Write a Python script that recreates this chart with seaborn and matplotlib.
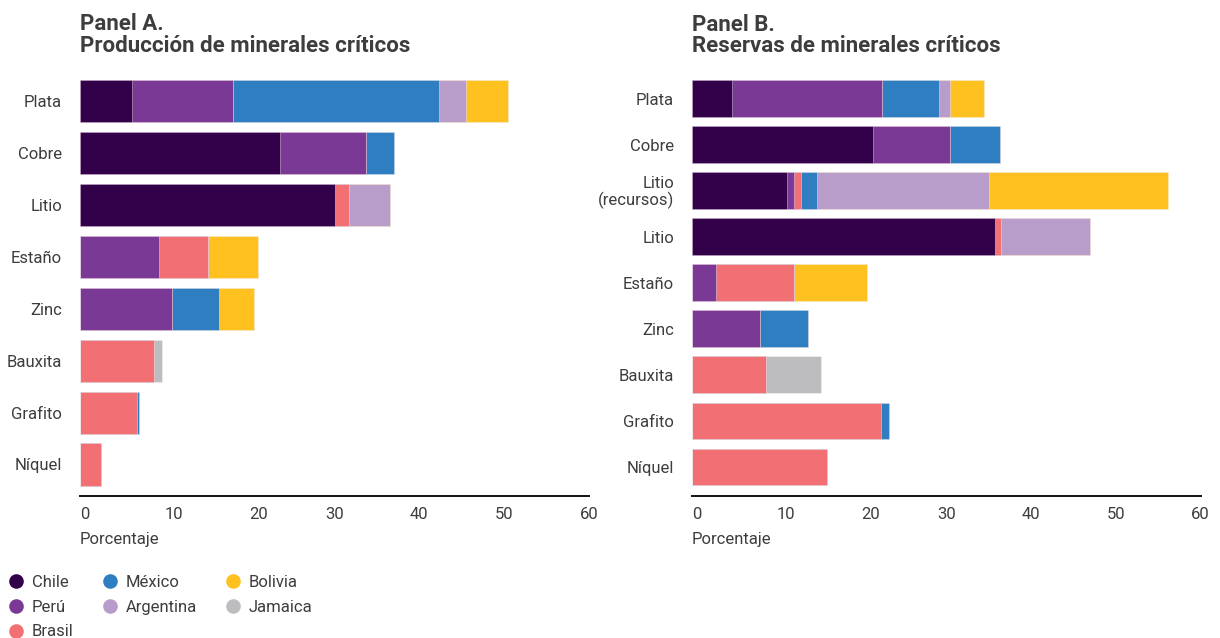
import numpy as np
import pandas as pd
import matplotlib
matplotlib.use("Agg")
import matplotlib.pyplot as plt
import seaborn as sns
from matplotlib.lines import Line2D

# ---------------- data ----------------
countries = ["Chile", "Perú", "Brasil", "México", "Argentina", "Bolivia", "Jamaica"]
colors = ["#33004a", "#7a3995", "#f26f73", "#2e7ec1", "#b89cc9", "#fec11f", "#bdbdbf"]

cats_a = ["Plata", "Cobre", "Litio", "Estaño", "Zinc", "Bauxita", "Grafito", "Níquel"]
chile_a = [6.1, 23.6, 30.0, 0, 0, 0, 0, 0]
peru_a = [11.9, 10.1, 0, 9.3, 10.8, 0, 0, 0]
brasil_a = [0, 0, 1.7, 5.8, 0, 8.7, 6.7, 2.5]
mexico_a = [24.3, 3.3, 0, 0, 5.6, 0, 0.25, 0]
argentina_a = [3.2, 0, 4.9, 0, 0, 0, 0, 0]
bolivia_a = [5.0, 0, 0, 5.9, 4.1, 0, 0, 0]
jamaica_a = [0, 0, 0, 0, 0, 1.0, 0, 0]

cats_b = ["Plata", "Cobre", "Litio\n(recursos)", "Litio", "Estaño", "Zinc", "Bauxita", "Grafito", "Níquel"]
chile_b = [4.7, 21.4, 11.2, 35.7, 0, 0, 0, 0, 0]
peru_b = [17.7, 9.1, 0.8, 0, 2.8, 8.0, 0, 0, 0]
brasil_b = [0, 0, 0.9, 0.8, 9.2, 0, 8.7, 22.3, 15.9]
mexico_b = [6.8, 5.9, 1.8, 0, 0, 5.7, 0, 0.9, 0]
argentina_b = [1.2, 0, 20.3, 10.5, 0, 0, 0, 0, 0]
bolivia_b = [4.0, 0, 21.2, 0, 8.6, 0, 0, 0, 0]
jamaica_b = [0, 0, 0, 0, 0, 0, 6.5, 0, 0]

xticks = [0, 10, 20, 30, 40, 50, 60]
x_label = "Porcentaje"
title_a = "Panel A.\nProducción de minerales críticos"
title_b = "Panel B.\nReservas de minerales críticos"

series_a = [chile_a, peru_a, brasil_a, mexico_a, argentina_a, bolivia_a, jamaica_a]
series_b = [chile_b, peru_b, brasil_b, mexico_b, argentina_b, bolivia_b, jamaica_b]

# ---------------- style ----------------
sns.set_theme(style="white")
plt.rcParams["font.family"] = ["Roboto", "DejaVu Sans"]
TXT = "#3d3d3d"

W, H = 1220, 638
fig = plt.figure(figsize=(W / 100, H / 100), dpi=100)


def long_df(cats, series):
    rows = []
    cum = np.zeros(len(cats))
    for c, vals in zip(countries, series):
        cum = cum + np.array(vals, dtype=float)
        for cat, v in zip(cats, cum):
            rows.append({"cat": cat, "country": c, "cum": v})
    return pd.DataFrame(rows)


def draw(ax, cats, series, width, ylim_bottom, title):
    df = long_df(cats, series)
    for c, col in reversed(list(zip(countries, colors))):
        sub = df[df["country"] == c]
        sns.barplot(data=sub, x="cum", y="cat", order=cats, orient="h",
                    color=col, saturation=1, width=width, errorbar=None,
                    edgecolor=(1, 1, 1, 0.45), linewidth=0.6, ax=ax)
    ax.set_xlim(0, 60)
    ax.set_ylim(ylim_bottom, -0.5)
    ax.set_xlabel("")
    ax.set_ylabel("")
    for s in ["top", "right", "left"]:
        ax.spines[s].set_visible(False)
    ax.spines["bottom"].set_color("#111111")
    ax.spines["bottom"].set_linewidth(1.4)
    ax.set_xticks(xticks)
    ax.set_xticklabels([str(t) for t in xticks])
    ax.tick_params(axis="x", length=0, pad=8, labelsize=12, labelcolor=TXT)
    ax.tick_params(axis="y", length=0, pad=13, labelsize=12, labelcolor=TXT)
    for lab, t in zip(ax.get_xticklabels(), xticks):
        lab.set_ha("left" if t <= 20 else "center")
    for lab in ax.get_yticklabels():
        lab.set_multialignment("right")
        lab.set_linespacing(1.0)
    ax.text(0, -0.1045, x_label, transform=ax.transAxes, ha="left", va="center",
            fontsize=12, color=TXT)
    ax.text(0, 1.095, title, transform=ax.transAxes, ha="left", va="center",
            fontsize=16, fontweight="bold", color=TXT, linespacing=0.95)


ax_a = fig.add_axes([80 / W, 1 - 496 / H, 509 / W, 421 / H])
draw(ax_a, cats_a, series_a, 0.81, 7.607, title_a)

ax_b = fig.add_axes([692 / W, 1 - 496 / H, 508.5 / W, 420.5 / H])
draw(ax_b, cats_b, series_b, 0.80, 8.63, title_b)

handles = [Line2D([0], [0], marker="o", linestyle="", markersize=10.5,
                  markerfacecolor=col, markeredgewidth=0) for col in colors]
fig.legend(handles, countries, loc="upper left", bbox_to_anchor=(6 / W, 1 - 575 / H),
           ncol=3, frameon=False, fontsize=12, labelcolor=TXT,
           handletextpad=0.36, columnspacing=1.55, labelspacing=0.58,
           borderpad=0, borderaxespad=0, handlelength=1.2)

fig.savefig("out.png", dpi=100)
